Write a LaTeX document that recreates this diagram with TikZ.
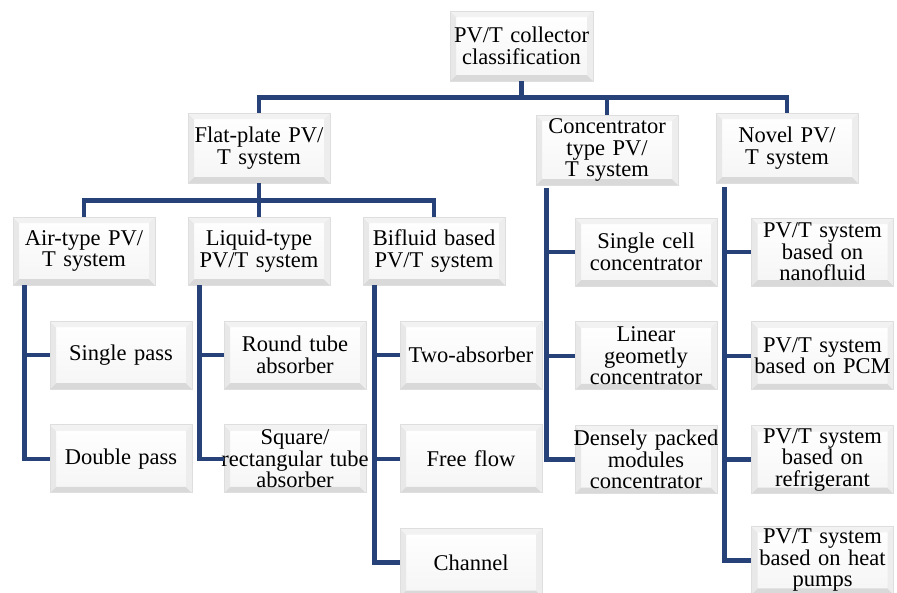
\documentclass[tikz,border=0pt]{standalone}
\usepackage{fontspec}
\setmainfont{Liberation Serif}
\usepackage{tikz}
\usetikzlibrary{positioning}

\definecolor{linknavy}{RGB}{38,66,120}
% width of the bevelled rim and a line that may spill past the box
\newcommand{\bevw}{6pt}
\newcommand{\wideline}[1]{\makebox[0pt]{#1}}

\begin{document}
\begin{tikzpicture}[
        x=1pt, y=-1pt,
        node distance=35pt and 35pt,
        % Bevel: darker strip at the bottom, lighter ones round the rest
        bevel/.style = {path picture={
            \fill[black!15] (path picture bounding box.south west) -- (path picture bounding box.south east)
                -- ([shift={(-\bevw,\bevw)}]path picture bounding box.south east)
                -- ([shift={(\bevw,\bevw)}]path picture bounding box.south west) -- cycle;
            \fill[black!9] (path picture bounding box.south west) -- (path picture bounding box.north west)
                -- ([shift={(\bevw,-\bevw)}]path picture bounding box.north west)
                -- ([shift={(\bevw,\bevw)}]path picture bounding box.south west) -- cycle;
            \fill[black!5] (path picture bounding box.north west) -- (path picture bounding box.north east)
                -- ([shift={(-\bevw,-\bevw)}]path picture bounding box.north east)
                -- ([shift={(\bevw,-\bevw)}]path picture bounding box.north west) -- cycle;
            \fill[black!7] (path picture bounding box.north east) -- (path picture bounding box.south east)
                -- ([shift={(-\bevw,\bevw)}]path picture bounding box.south east)
                -- ([shift={(-\bevw,-\bevw)}]path picture bounding box.north east) -- cycle;
        }},
        % Classification boxes: white face, soft grey rim
        pvbox/.style = {rectangle, draw=black!13, line width=0.8pt, top color=white, bottom color=black!4,
                        bevel, text width=140pt, inner xsep=1pt, inner ysep=0pt,
                        minimum height=68pt, align=center, font=\fontsize{22.5}{21.5}\selectfont},
        % Tree connectors: thick navy elbows
        link/.style = {draw=linknavy, line width=4.5pt}
    ]
    \useasboundingbox (0,0) rectangle (897,592);

    % --- Row 0: root ---
    \node[pvbox, text width=141pt, minimum height=70pt] (root) at (521.5,46) {PV/T collector\\classification};

    % --- Row 1: system families ---
    \node[pvbox, minimum height=70pt] (flat)  at (259,148) {Flat-plate PV/\\T system};
    \node[pvbox, minimum height=70pt] (conc)  at (607,150) {Concentrator\\type PV/\\T system};
    \node[pvbox, minimum height=70pt] (novel) at (787,148) {Novel PV/\\T system};

    % --- Row 2: flat-plate sub-types ---
    \node[pvbox] (air)     at (84,251)  {Air-type PV/\\T system};
    \node[pvbox] (liquid)  at (259,251) {Liquid-type\\PV/T system};
    \node[pvbox] (bifluid) at (434,251) {Bifluid based\\PV/T system};

    % --- Air column ---
    \node[pvbox] (single) at (121,355) {Single pass};
    \node[pvbox, below=of single] (double) {Double pass};

    % --- Liquid column ---
    \node[pvbox] (round) at (295,355) {Round tube\\absorber};
    \node[pvbox, below=of round] (square) {Square/\\\wideline{rectangular tube}\\absorber};

    % --- Bifluid column ---
    \node[pvbox] (twoabs) at (471,355) {Two-absorber};
    \node[pvbox, below=of twoabs] (freeflow) {Free flow};
    \node[pvbox, below=of freeflow] (channel) {Channel};

    % --- Concentrator column ---
    \node[pvbox] (singlecell) at (646,252) {Single cell\\concentrator};
    \node[pvbox, below=of singlecell] (linear) {Linear\\geometly\\concentrator};
    \node[pvbox, below=of linear] (densely) {\wideline{Densely packed}\\modules\\concentrator};

    % --- Novel column ---
    \node[pvbox] (nano) at (822.5,252) {PV/T system\\based on\\nanofluid};
    \node[pvbox, below=of nano] (pcm) {PV/T system\\based on PCM};
    \node[pvbox, below=of pcm] (refrig) {PV/T system\\based on\\refrigerant};
    \node[pvbox, below=32pt of refrig] (heatpump) {PV/T system\\based on heat\\pumps};

    % --- Edges ---
    % Root to families
    \foreach \fam in {flat,conc,novel}
        \draw[link] (root.south) -- ++(0,16) -| (\fam.north);
    % Flat-plate to its sub-types
    \foreach \sub in {air,liquid,bifluid}
        \draw[link] (flat.south) -- ++(0,17) -| (\sub.north);

    % Side rails down each column
    \foreach \kid in {single,double}
        \draw[link] ([xshift=12pt]air.south west) |- (\kid.west);
    \foreach \kid in {round,square}
        \draw[link] ([xshift=12pt]liquid.south west) |- (\kid.west);
    \foreach \kid in {twoabs,freeflow,channel}
        \draw[link] ([xshift=12pt]bifluid.south west) |- (\kid.west);
    \foreach \kid in {singlecell,linear,densely}
        \draw[link] ([xshift=11pt,yshift=-3pt]conc.south west) |- (\kid.west);
    \foreach \kid in {nano,pcm,refrig,heatpump}
        \draw[link] ([xshift=9pt,yshift=-4pt]novel.south west) |- (\kid.west);

\end{tikzpicture}
\end{document}
